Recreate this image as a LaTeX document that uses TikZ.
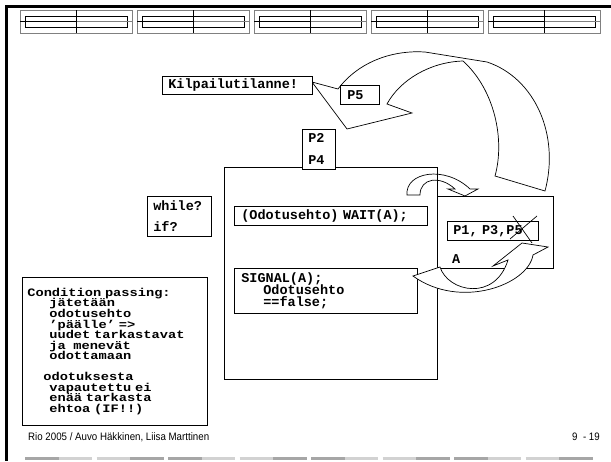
\documentclass[tikz,border=0pt]{standalone}
\usepackage{fontspec}
\newfontfamily\slidemono[WordSpace={1,0,0}]{Liberation Mono}
\newfontfamily\slidemonowide[FakeStretch=1.2, WordSpace={1,0,0}]{Liberation Mono}
\newfontfamily\slidesans[FakeStretch=0.9]{Liberation Sans}
\newcommand{\codefont}{\slidemono\bfseries\fontsize{13.5}{12}\selectfont\lineskiplimit=-20pt\relax}
\newcommand{\notefont}{\slidemonowide\bfseries\fontsize{11.4}{10.6}\selectfont\lineskiplimit=-20pt\relax}
\tikzset{
  codebox/.style={draw, fill=white, line width=0.7pt, anchor=north west, align=left,
    inner ysep=0pt, font=\codefont},
  blockarrow/.style={draw, line width=0.7pt, line join=miter},
  footnote/.style={font=\slidesans\fontsize{10.8}{12}\selectfont, inner sep=0pt}
}
\begin{document}
\begin{tikzpicture}[x=1pt, y=-1pt]
\useasboundingbox (0,0) rectangle (611,461);
% slide frame
\draw[line width=3pt] (5,6) -- (611,6);
\draw[line width=3pt] (6,5) -- (6,461);
% header strip
\draw[gray] (20,10) rectangle (132,33); \draw (25,16) rectangle (127,27);
\draw (20,21.5) -- (76,21.5); \draw[gray] (76,21.5) -- (132,21.5); \draw (76,10) -- (76,33);
\draw[gray] (137,10) rectangle (249,33); \draw (142,16) rectangle (244,27);
\draw (137,21.5) -- (193,21.5); \draw[gray] (193,21.5) -- (249,21.5); \draw (193,10) -- (193,33);
\draw[gray] (254,10) rectangle (366,33); \draw (259,16) rectangle (361,27);
\draw (254,21.5) -- (310,21.5); \draw[gray] (310,21.5) -- (366,21.5); \draw (310,10) -- (310,33);
\draw[gray] (371,10) rectangle (483,33); \draw (376,16) rectangle (478,27);
\draw (371,21.5) -- (427,21.5); \draw[gray] (427,21.5) -- (483,21.5); \draw (427,10) -- (427,33);
\draw[gray] (488,10) rectangle (600,33); \draw (493,16) rectangle (595,27);
\draw (488,21.5) -- (544,21.5); \draw[gray] (544,21.5) -- (600,21.5); \draw (544,10) -- (544,33);

% monitor and its queue
\node[draw, line width=0.7pt, anchor=north west, minimum width=213pt, minimum height=212pt, inner sep=0pt] (monitor) at (224,167) {};
\node[draw, line width=0.7pt, anchor=north west, minimum width=116pt, minimum height=72pt, inner sep=0pt] (queue) at (437,196) {};

% big curved arrow over the top
\draw[blockarrow, fill=white] (338,89) .. controls (360,60) and (395,50) .. (425,52) -- (487,62)
  .. controls (535,78) and (560,135) .. (545,191) -- (495,176)
  .. controls (505,140) and (495,90) .. (463,61)
  .. controls (430,62) and (400,80) .. (387,104)
  -- (412,113) -- (347,129) -- (312,82) -- cycle;

\node[codebox, minimum width=150pt, minimum height=18pt, text width=138pt, inner xsep=6pt] (kilp) at (162,76) {Kilpailutilanne!};
\node[codebox, minimum width=39pt, minimum height=19pt, text width=25pt, inner xsep=7pt] (p5) at (340,85) {P5};
\node[codebox, minimum width=33pt, minimum height=40pt, text width=21pt, inner xsep=6pt] (p24) at (302,129) {P2\\[10pt]P4};
\node[codebox, minimum width=64pt, minimum height=40pt, text width=52pt, inner xsep=6pt] (cond) at (147,196) {while?\\[9pt]if?};
\node[codebox, minimum width=193pt, minimum height=19pt, text width=179pt, inner xsep=7pt] (wait) at (234,206) {(Odotusehto) WAIT(A);};
\node[codebox, minimum width=183pt, minimum height=45pt, text width=169pt, inner xsep=7pt] (signal) at (234,268) {SIGNAL(A);\\\hspace*{22pt}Odotusehto\\\hspace*{22pt}==false;};
\node[codebox, minimum width=91pt, minimum height=19pt, text width=79pt, inner xsep=6pt] (plist) at (447,221) {P1, P3,P5};
\node[font=\codefont, anchor=west, inner sep=0pt] (qa) at (452,259) {A};

\node[codebox, minimum width=183pt, minimum height=148pt, text width=175pt, inner xsep=5pt, font=\notefont] (passing) at (22,277)
  {Condition passing:\\
   \hspace*{22pt}jätetään\\
   \hspace*{22pt}odotusehto\\
   \hspace*{22pt}’päälle’ =>\\
   \hspace*{22pt}uudet tarkastavat\\
   \hspace*{22pt}ja\ \ menevät\\
   \hspace*{22pt}odottamaan\\[10pt]
   \hspace*{16pt}odotuksesta\\
   \hspace*{22pt}vapautettu ei\\
   \hspace*{22pt}enää tarkasta\\
   \hspace*{22pt}ehtoa (IF!!)};

% small arrow into the queue
\draw[blockarrow] (407,195) .. controls (405,172) and (445,165) .. (470,189) -- (478,189) -- (465,196)
  -- (448,189) -- (455,189) .. controls (440,175) and (420,178) .. (420,195) -- cycle;

% arrow from signal back to the queue
\draw[blockarrow, fill=white] (413,276) -- (440,267) .. controls (448,292) and (495,302) .. (508,260)
  -- (493,266) -- (522,243) -- (548,247) -- (533,255)
  .. controls (528,285) and (460,310) .. cycle;

% P5 crossed out
\draw[line width=0.7pt] (513,216) -- (532,243);
\draw[line width=0.7pt] (510,239) -- (537,216);

% footer
\node[footnote, anchor=west] (credit) at (28,437) {Rio 2005 / Auvo Häkkinen, Liisa Marttinen};
\node[footnote, anchor=east] (pageno) at (600,437) {9\ \ -\ 19};
\draw[line width=3pt, gray!70] (25,458) -- (58.5,458); \draw[line width=3pt, gray!35] (58.5,458) -- (92,458);
\draw[line width=3pt, gray!35] (96.5,458) -- (130,458); \draw[line width=3pt, gray!70] (130,458) -- (163.5,458);
\draw[line width=3pt, gray!70] (168,458) -- (201.5,458); \draw[line width=3pt, gray!35] (201.5,458) -- (235,458);
\draw[line width=3pt, gray!35] (239.5,458) -- (273,458); \draw[line width=3pt, gray!70] (273,458) -- (306.5,458);
\draw[line width=3pt, gray!70] (311,458) -- (344.5,458); \draw[line width=3pt, gray!35] (344.5,458) -- (378,458);
\draw[line width=3pt, gray!35] (382.5,458) -- (416,458); \draw[line width=3pt, gray!70] (416,458) -- (449.5,458);
\draw[line width=3pt, gray!70] (454,458) -- (487.5,458); \draw[line width=3pt, gray!35] (487.5,458) -- (521,458);
\draw[line width=3pt, gray!35] (525.5,458) -- (559,458); \draw[line width=3pt, gray!70] (559,458) -- (592.5,458);
\end{tikzpicture}
\end{document}
